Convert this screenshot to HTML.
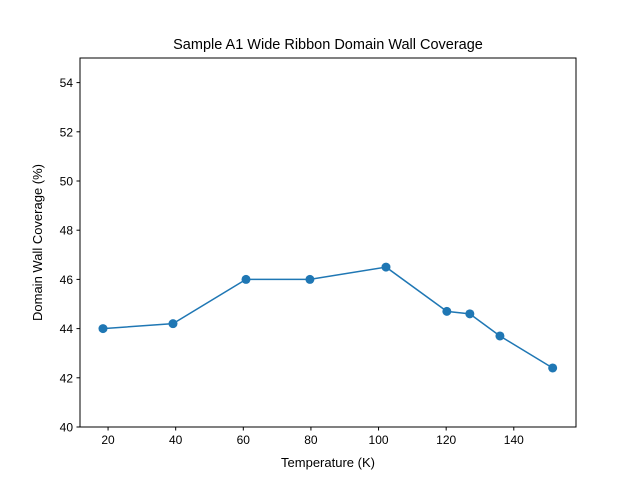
<!DOCTYPE html>
<html><head><meta charset="utf-8"><style>
body{margin:0;background:#fff;}
svg{font-family:"Liberation Sans","DejaVu Sans",sans-serif;}
</style></head><body>
<svg id="chart" width="640" height="480">
<rect width="640" height="480" fill="#fff"/>
<text x="328" y="49" text-anchor="middle" font-size="14.5">Sample A1 Wide Ribbon Domain Wall Coverage</text>
<g id="plot"></g>
<rect x="80" y="58" width="496" height="369" fill="none" stroke="#000" stroke-width="1"/>
<text x="328" y="467" text-anchor="middle" font-size="13">Temperature (K)</text>
<text transform="translate(42,242.5) rotate(-90)" text-anchor="middle" font-size="13">Domain Wall Coverage (%)</text>
</svg>
<script>
const temps=[18.5,39.2,60.8,79.7,102.2,120.2,127,135.9,151.5];
const coverage=[44,44.2,46,46,46.5,44.7,44.6,43.7,42.4];
const xTicks=[20,40,60,80,100,120,140];
const yTicks=[40,42,44,46,48,50,52,54];
const xMin=11.7,xMax=158.4,yMin=40,yMax=55;
const L=80,R=576,T=58,B=427;
function sx(v){return L+(v-xMin)/(xMax-xMin)*(R-L);}
function sy(v){return B-(v-yMin)/(yMax-yMin)*(B-T);}
const NS="http://www.w3.org/2000/svg";
const g=document.getElementById('plot');
function mk(t,a){const e=document.createElementNS(NS,t);for(const k in a)e.setAttribute(k,a[k]);g.appendChild(e);return e;}
xTicks.forEach(v=>{
  const x=sx(v);
  const tk=mk('line',{x1:x,x2:x,y1:B,y2:B+3.5,stroke:'#000'});
  
  
  const t=mk('text',{x:x,y:B+17,'text-anchor':'middle','font-size':'12'});
  t.textContent=v;
  
  
});
yTicks.forEach(v=>{
  const y=sy(v);
  const tk=mk('line',{x1:L-3.5,x2:L,y1:y,y2:y,stroke:'#000'});
  
  
  const t=mk('text',{x:L-7,y:y+4.5,'text-anchor':'end','font-size':'12'});
  t.textContent=v;
  
  
});
const pts=temps.map((v,i)=>sx(v)+','+sy(coverage[i])).join(' ');
const line=mk('polyline',{points:pts,fill:'none',stroke:'#1f77b4','stroke-width':1.5});


temps.forEach((v,i)=>{
  const c=mk('circle',{cx:sx(v),cy:sy(coverage[i]),r:4.5,fill:'#1f77b4'});
  
  
});
</script>
</body></html>
